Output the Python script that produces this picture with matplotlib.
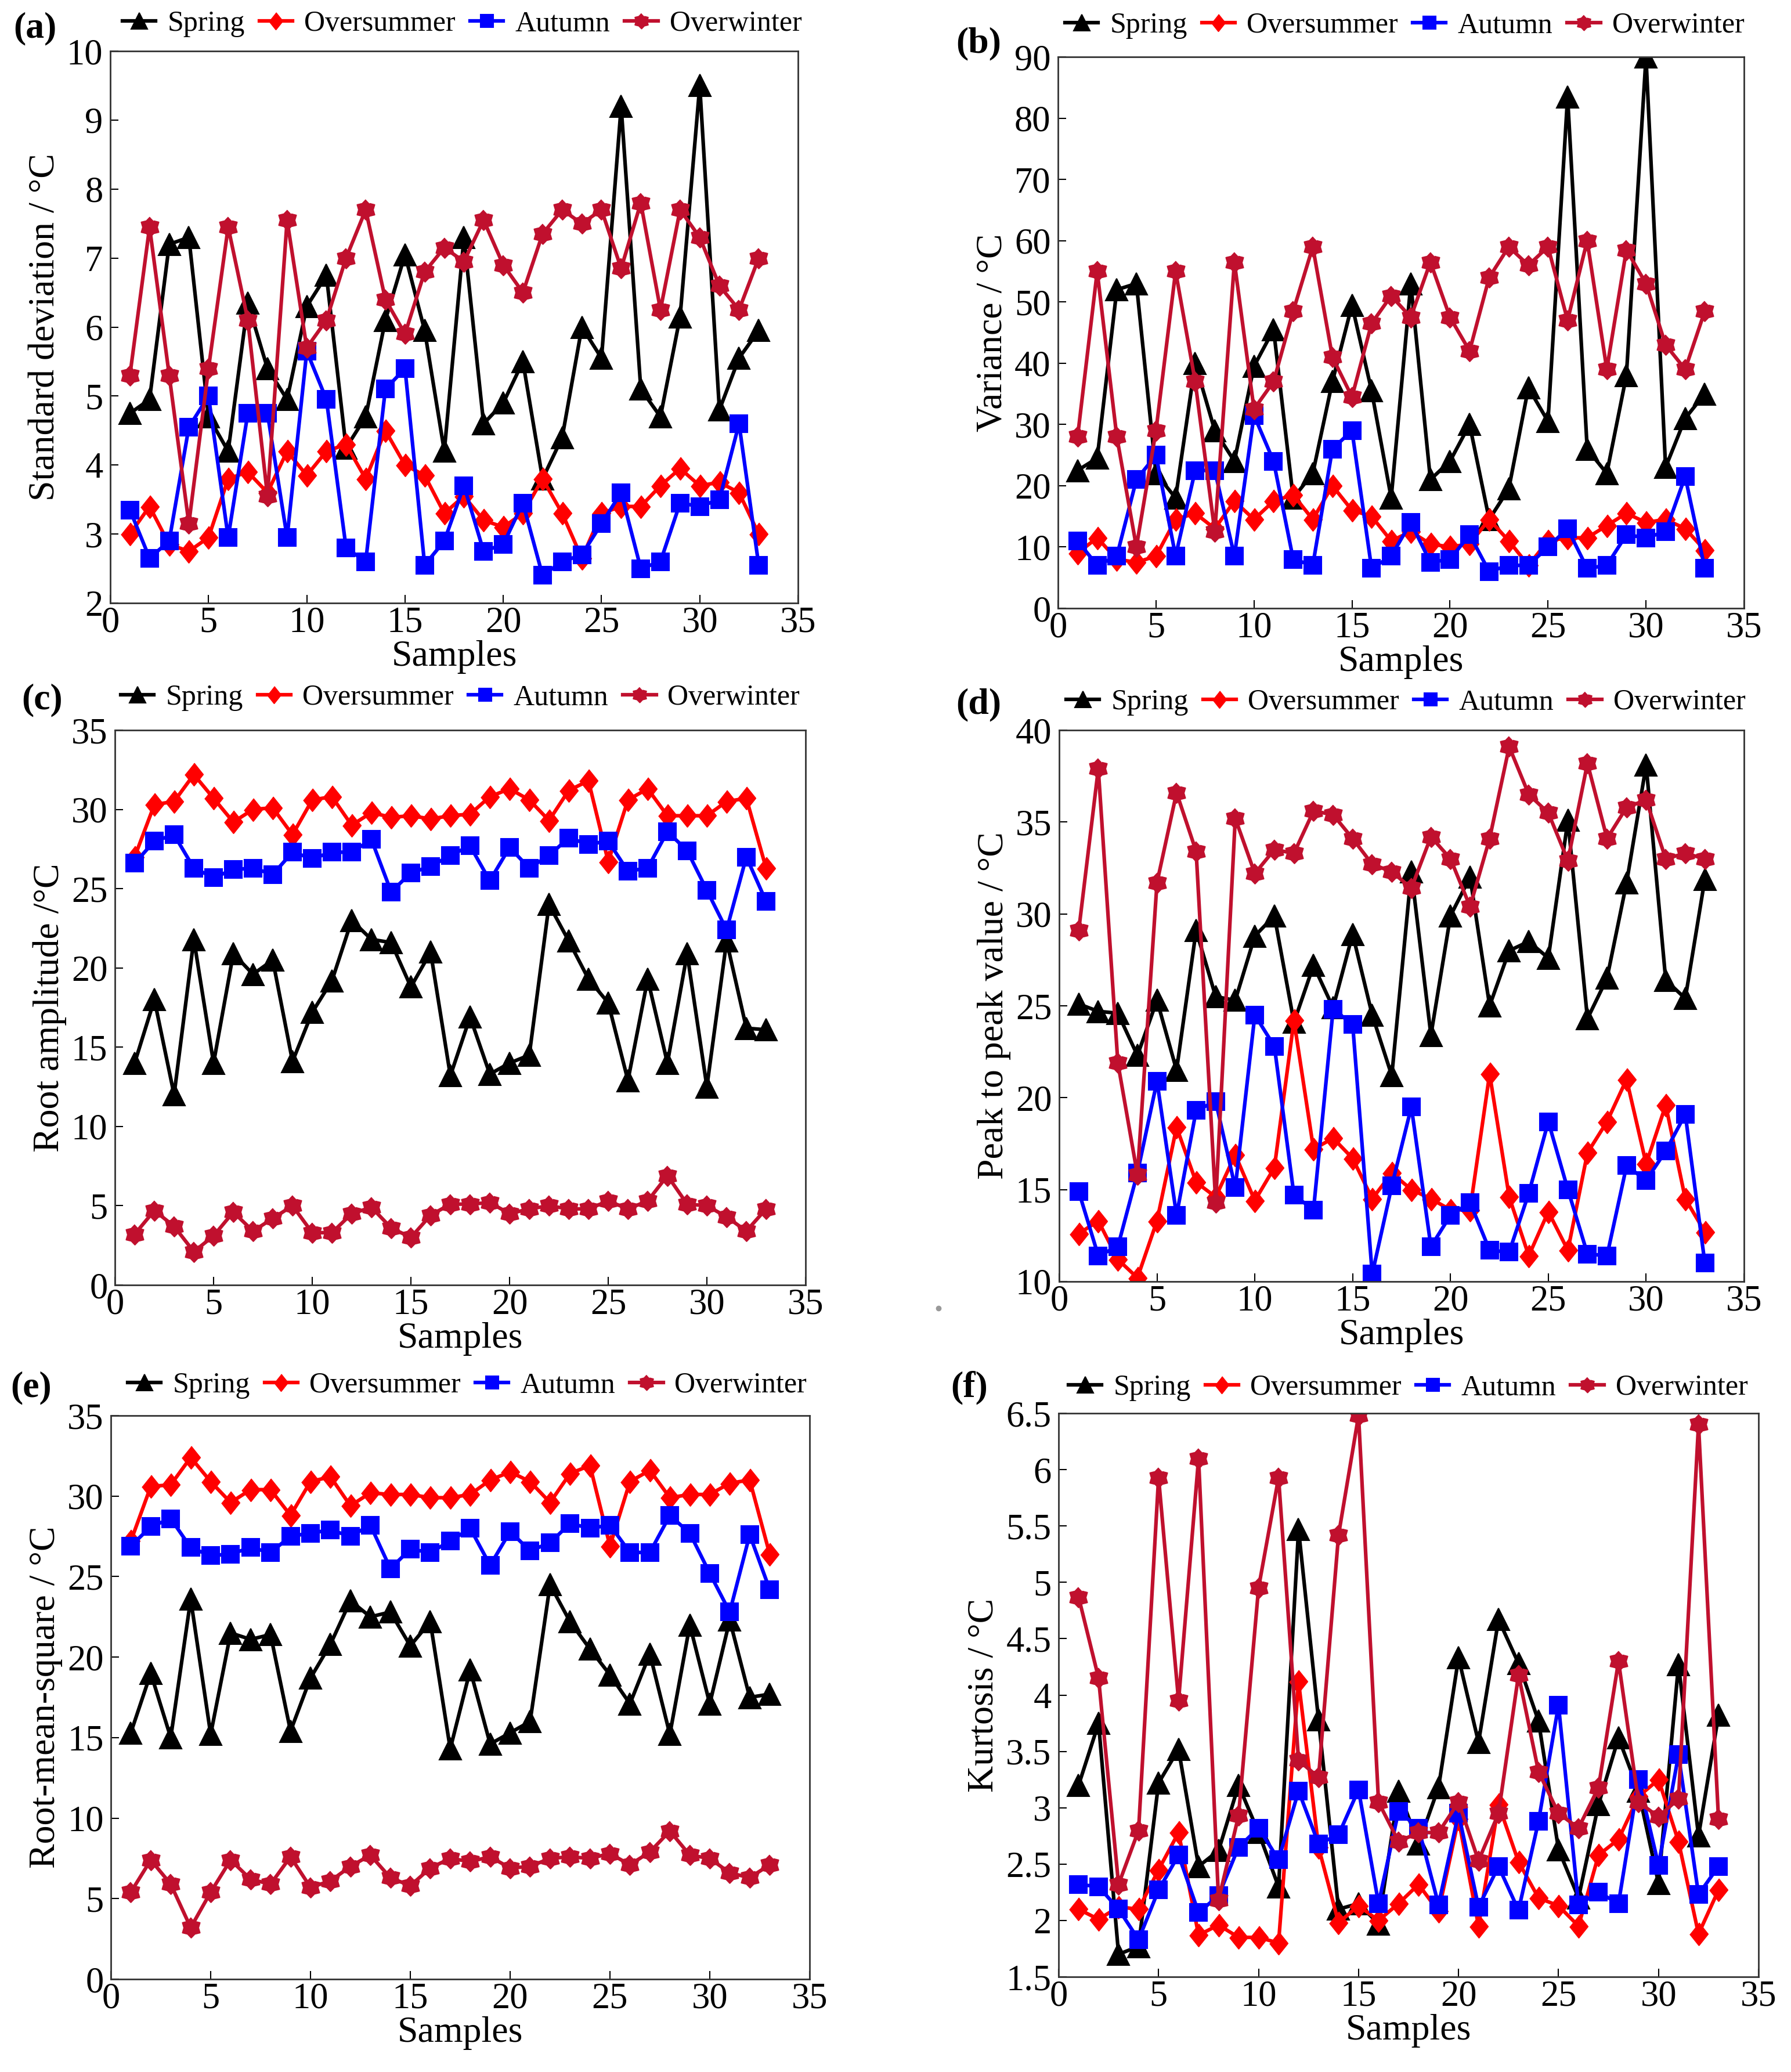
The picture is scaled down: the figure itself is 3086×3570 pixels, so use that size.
import numpy as np
import matplotlib
matplotlib.use('Agg')
import matplotlib.pyplot as plt
from matplotlib.lines import Line2D

plt.rcParams['font.family'] = ['Liberation Serif', 'DejaVu Serif']

samples = np.arange(1, 34)
season_names = ['Spring', 'Oversummer', 'Autumn', 'Overwinter']

# (a) standard deviation
std_spring = [4.75, 4.95, 7.2, 7.3, 4.7, 4.2, 6.35, 5.4, 4.95, 6.3, 6.75, 4.25, 4.7, 6.1, 7.05, 5.95, 4.2,
              7.3, 4.6, 4.9, 5.5, 3.8, 4.4, 6.0, 5.55, 9.2, 5.1, 4.7, 6.15, 9.5, 4.8, 5.55, 5.95]
std_summer = [3.0, 3.4, 2.85, 2.75, 2.95, 3.8, 3.9, 3.6, 4.2, 3.85, 4.2, 4.3, 3.8, 4.5, 4.0, 3.85, 3.3,
              3.55, 3.2, 3.1, 3.3, 3.8, 3.3, 2.65, 3.3, 3.4, 3.4, 3.7, 3.95, 3.7, 3.75, 3.6, 3.0]
std_autumn = [3.35, 2.65, 2.9, 4.55, 5.0, 2.95, 4.75, 4.75, 2.95, 5.65, 4.95, 2.8, 2.6, 5.1, 5.4, 2.55, 2.9,
              3.7, 2.75, 2.85, 3.45, 2.4, 2.6, 2.7, 3.15, 3.6, 2.5, 2.6, 3.45, 3.4, 3.5, 4.6, 2.55]
std_winter = [5.3, 7.45, 5.3, 3.15, 5.4, 7.45, 6.1, 3.55, 7.55, 5.7, 6.1, 7.0, 7.7, 6.4, 5.9, 6.8, 7.15,
              6.95, 7.55, 6.9, 6.5, 7.35, 7.7, 7.5, 7.7, 6.85, 7.8, 6.25, 7.7, 7.3, 6.6, 6.25, 7.0]

# (b) variance
var_spring = [22.5, 24.5, 52, 53, 22, 18, 40, 29, 24, 39.5, 45.5, 18, 22, 37, 49.5, 35.5, 18,
              53, 21, 24, 30, 14.5, 19.5, 36, 30.5, 83.5, 26, 22, 38, 90, 23, 31, 35]
var_summer = [9, 11.5, 8, 7.5, 8.5, 14.5, 15.5, 13, 17.5, 14.5, 17.5, 18.5, 14.5, 20, 16, 15, 11,
              12.5, 10.5, 10, 10.5, 14.5, 11, 7, 11, 11.5, 11.5, 13.5, 15.5, 14, 14.5, 13, 9.5]
var_autumn = [11, 7, 8.5, 21, 25, 8.5, 22.5, 22.5, 8.5, 31.5, 24, 8, 7, 26, 29, 6.5, 8.5,
              14, 7.5, 8, 12, 6, 7, 7, 10, 13, 6.5, 7, 12, 11.5, 12.5, 21.5, 6.5]
var_winter = [28, 55, 28, 10, 29, 55, 37, 12.5, 56.5, 32.5, 37, 48.5, 59, 41, 34.5, 46.5, 51,
              47.5, 56.5, 47.5, 42, 54, 59, 56, 59, 47, 60, 39, 58.5, 53, 43, 39, 48.5]

# (c) root amplitude
ra_spring = [14, 18, 12, 21.8, 14, 20.9, 19.6, 20.5, 14.1, 17.2, 19.2, 23, 21.8, 21.6, 18.8, 21, 13.2,
             16.9, 13.3, 14, 14.5, 24, 21.7, 19.3, 17.8, 12.9, 19.3, 14, 20.9, 12.5, 21.7, 16.2, 16.1]
ra_summer = [27, 30.3, 30.5, 32.2, 30.7, 29.2, 30, 30.1, 28.4, 30.6, 30.8, 29, 29.8, 29.5, 29.6, 29.4, 29.6,
             29.7, 30.8, 31.3, 30.6, 29.3, 31.2, 31.8, 26.7, 30.6, 31.3, 29.6, 29.6, 29.6, 30.5, 30.7, 26.3]
ra_autumn = [26.6, 28, 28.4, 26.3, 25.7, 26.2, 26.3, 25.9, 27.3, 26.9, 27.3, 27.3, 28.1, 24.8, 26, 26.4, 27.1,
             27.7, 25.5, 27.6, 26.3, 27.1, 28.2, 27.8, 28, 26.1, 26.3, 28.6, 27.4, 24.9, 22.4, 27, 24.2]
ra_winter = [3.2, 4.7, 3.7, 2.1, 3.1, 4.6, 3.4, 4.2, 5, 3.3, 3.3, 4.5, 4.9, 3.6, 3, 4.4, 5.1,
             5.1, 5.2, 4.5, 4.8, 5, 4.8, 4.8, 5.3, 4.8, 5.3, 6.9, 5.1, 5, 4.3, 3.4, 4.8]

# (d) peak to peak value
pp_spring = [25.1, 24.7, 24.6, 22.3, 25.3, 21.5, 29.1, 25.5, 25.3, 28.8, 29.9, 24.1, 27.2, 24.9, 28.9, 24.5, 21.2,
             32.3, 23.4, 29.9, 32, 25, 28, 28.5, 27.6, 35.1, 24.3, 26.5, 31.7, 38.1, 26.4, 25.4, 31.9]
pp_summer = [12.6, 13.3, 11.2, 10.2, 13.3, 18.4, 15.4, 14.6, 16.9, 14.4, 16.2, 24.2, 17.2, 17.8, 16.7, 14.5, 15.9,
             15, 14.5, 13.9, 13.9, 21.3, 14.6, 11.4, 13.8, 11.7, 17, 18.7, 21, 16.4, 19.6, 14.5, 12.7]
pp_autumn = [14.9, 11.4, 11.9, 15.9, 20.9, 13.6, 19.3, 19.8, 15.1, 24.5, 22.8, 14.7, 13.9, 24.8, 24, 10.4, 15.2,
             19.5, 11.9, 13.6, 14.3, 11.7, 11.6, 14.8, 18.7, 15, 11.5, 11.4, 16.3, 15.5, 17.1, 19.1, 11]
pp_winter = [29.1, 37.9, 21.9, 15.8, 31.7, 36.6, 33.4, 14.3, 35.2, 32.2, 33.5, 33.3, 35.6, 35.4, 34.1, 32.7, 32.3,
             31.4, 34.2, 33, 30.4, 34.1, 39.1, 36.5, 35.5, 32.9, 38.2, 34.1, 35.8, 36.2, 33, 33.3, 33]

# (e) root-mean-square
rms_spring = [15.3, 19, 15, 23.6, 15.2, 21.5, 21.1, 21.4, 15.4, 18.7, 20.8, 23.5, 22.5, 22.8, 20.7, 22.2, 14.3,
              19.2, 14.6, 15.3, 16, 24.5, 22.2, 20.5, 18.9, 17.1, 20.2, 15.2, 22, 17.1, 22.3, 17.5, 17.7]
rms_summer = [27.2, 30.6, 30.7, 32.4, 30.9, 29.6, 30.4, 30.4, 28.8, 30.9, 31.2, 29.4, 30.2, 30.1, 30.1, 29.9, 29.9,
              30.1, 31, 31.5, 30.9, 29.6, 31.4, 31.9, 26.9, 30.9, 31.6, 29.9, 30.1, 30.1, 30.8, 31, 26.4]
rms_autumn = [26.9, 28.1, 28.6, 26.8, 26.3, 26.4, 26.8, 26.5, 27.5, 27.7, 27.9, 27.5, 28.2, 25.5, 26.7, 26.5, 27.2,
              28, 25.7, 27.8, 26.6, 27.1, 28.3, 28, 28.2, 26.5, 26.5, 28.8, 27.7, 25.2, 22.8, 27.6, 24.2]
rms_winter = [5.4, 7.4, 5.9, 3.2, 5.4, 7.4, 6.2, 5.9, 7.6, 5.7, 6.1, 7, 7.7, 6.3, 5.8, 6.9, 7.5,
              7.3, 7.6, 6.9, 7, 7.5, 7.6, 7.5, 7.8, 7.1, 7.9, 9.2, 7.7, 7.5, 6.6, 6.3, 7.1]

# (f) kurtosis
kur_spring = [3.2, 3.75, 1.7, 1.77, 3.22, 3.52, 2.48, 2.62, 3.2, 2.78, 2.3, 5.47, 3.78, 2.1, 2.15, 1.97, 3.15,
              2.68, 3.18, 4.33, 3.58, 4.67, 4.28, 3.77, 2.63, 2.2, 3.03, 3.62, 3.15, 2.33, 4.27, 2.75, 3.82]
kur_summer = [2.1, 2.01, 2.12, 2.1, 2.45, 2.78, 1.87, 1.96, 1.85, 1.85, 1.8, 4.12, 2.65, 1.98, 2.13, 2.0, 2.15,
              2.32, 2.08, 2.9, 1.95, 3.03, 2.52, 2.2, 2.13, 1.95, 2.58, 2.72, 3.1, 3.25, 2.7, 1.88, 2.27]
kur_autumn = [2.32, 2.3, 2.1, 1.83, 2.27, 2.58, 2.07, 2.22, 2.65, 2.82, 2.54, 3.15, 2.68, 2.76, 3.16, 2.15, 2.97,
              2.82, 2.14, 2.95, 2.12, 2.48, 2.09, 2.88, 3.91, 2.14, 2.25, 2.15, 3.25, 2.49, 3.47, 2.23, 2.48]
kur_winter = [4.87, 4.15, 2.32, 2.8, 5.93, 3.95, 6.1, 2.18, 2.93, 4.95, 5.93, 3.42, 3.27, 5.42, 6.48, 3.05, 2.7,
              2.78, 2.78, 3.05, 2.53, 2.95, 4.18, 3.32, 2.95, 2.82, 3.18, 4.3, 3.05, 2.92, 3.08, 6.4, 2.9]

# fat six-pointed star and a slightly tall diamond, like the original markers
ang = np.deg2rad(np.arange(0, 360, 30) + 90)
rad = np.where(np.arange(12) % 2 == 0, 1.0, 0.72)
hexagram = list(zip(rad * np.cos(ang), rad * np.sin(ang)))
diamond = [(0, 1), (0.8, 0), (0, -1), (-0.8, 0)]

colors = ['black', '#ff0000', '#0000ff', '#c0102e']
markers = ['^', diamond, 's', hexagram]
msizes = [27, 28, 22, 25]

panels = [
    ('(a)', 'Standard deviation / °C', [std_spring, std_summer, std_autumn, std_winter], (2, 10), 1),
    ('(b)', 'Variance / °C', [var_spring, var_summer, var_autumn, var_winter], (0, 90), 10),
    ('(c)', 'Root amplitude /°C', [ra_spring, ra_summer, ra_autumn, ra_winter], (0, 35), 5),
    ('(d)', 'Peak to peak value / °C', [pp_spring, pp_summer, pp_autumn, pp_winter], (10, 40), 5),
    ('(e)', 'Root-mean-square / °C', [rms_spring, rms_summer, rms_autumn, rms_winter], (0, 35), 5),
    ('(f)', 'Kurtosis / °C', [kur_spring, kur_summer, kur_autumn, kur_winter], (1.5, 6.5), 0.5),
]

# axes boxes in pixels: left, right, top, bottom
boxes = [
    (190, 1375, 88, 1039),
    (1823, 3005, 98, 1048),
    (198, 1388, 1258, 2214),
    (1825, 3005, 1258, 2208),
    (191, 1395, 2439, 3410),
    (1824, 3030, 2435, 3406),
]
# panel letter (left x, centre y) and legend centre (x, y), in pixels
letter_pos = [(23, 49), (1647, 75), (37, 1206), (1647, 1214), (18, 2391), (1638, 2391)]
legend_pos = [(796, 41), (2420, 44), (793, 1202), (2422, 1210), (805, 2387), (2426, 2391)]

W, H = 3086, 3570
fig = plt.figure(figsize=(W / 100, H / 100), dpi=100)

for i, (label, ylabel, series, ylim, ystep) in enumerate(panels):
    l, r, t, b = boxes[i]
    ax = fig.add_axes([l / W, 1 - b / H, (r - l) / W, (b - t) / H])
    for name, vals, c, m, ms in zip(season_names, series, colors, markers, msizes):
        ax.plot(samples, vals, color=c, marker=m, markersize=ms, lw=4.5,
                markeredgewidth=1.5, label=name)
    ax.set_xlim(0, 35)
    ax.set_ylim(*ylim)
    ax.set_xticks(np.arange(0, 36, 5))
    yt = np.arange(ylim[0], ylim[1] + ystep / 2, ystep)
    ax.set_yticks(yt)
    ax.set_yticklabels(['%g' % v for v in yt])
    ax.tick_params(direction='in', length=10, width=1.5, labelsize=45,
                   top=False, right=False)
    ax.tick_params(axis='x', pad=4)
    ax.tick_params(axis='y', pad=9)
    for sp in ax.spines.values():
        sp.set_linewidth(2)
        sp.set_color('#333333')
    ax.set_xlabel('Samples', fontsize=46, labelpad=0)
    ax.set_ylabel(ylabel, fontsize=46, labelpad=6)
    lx, ly = legend_pos[i]
    ax.legend(loc='center', bbox_to_anchor=(lx / W, 1 - ly / H), bbox_transform=fig.transFigure,
              ncol=4, frameon=False, fontsize=36, markerscale=0.75, handlelength=1.15,
              handletextpad=0.4, columnspacing=0.5, borderaxespad=0, borderpad=0)
    px, py = letter_pos[i]
    fig.text(px / W, 1 - py / H, label, fontsize=46, fontweight='bold',
             ha='left', va='center')

# stray grey dot from the source scan
fig.add_artist(Line2D([1617 / W], [1 - 2254 / H], marker='o', color='#999999',
                      markersize=6, transform=fig.transFigure))

fig.savefig('out.png', dpi=100)
